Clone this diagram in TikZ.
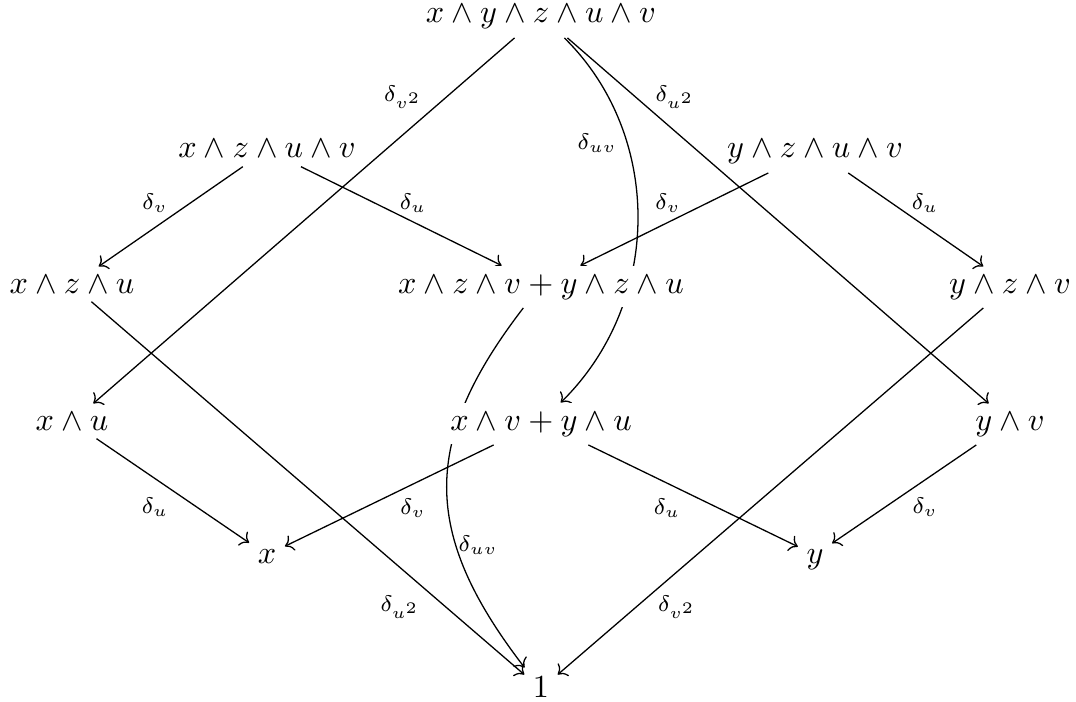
\documentclass[tikz,border=0pt]{standalone}
\usetikzlibrary{cd,arrows.meta,backgrounds}
\begin{document}
\begin{tikzpicture}[x=0.3106pt, y=-0.3106pt,
  cell/.style={shape=asymmetrical rectangle, anchor=base, inner xsep=2.5pt, inner ysep=2.5pt},
  opaque/.style={fill=white},
  lab/.style={inner sep=0pt},
  arr/.style={-{Computer Modern Rightarrow}, line width=0.4pt}]
\useasboundingbox (0,0) rectangle (1076,702);
% nodes (placed at baselines)
\node[cell] (T) at (541,23) {$x\wedge y\wedge z\wedge u\wedge v$};
\node[cell] (A) at (267,158) {$x\wedge z\wedge u\wedge v$};
\node[cell] (B) at (815,158) {$y\wedge z\wedge u\wedge v$};
\node[cell] (C) at (72,293) {$x\wedge z\wedge u$};
\node[cell, opaque] (M) at (541,293) {$x\wedge z\wedge v+y\wedge z\wedge u$};
\node[cell] (D) at (1010,293) {$y\wedge z\wedge v$};
\node[cell] (E) at (72,430) {$x\wedge u$};
\node[cell, opaque] (F) at (541,430) {$x\wedge v+y\wedge u$};
\node[cell] (G) at (1010,430) {$y\wedge v$};
\node[cell] (X) at (267,563) {$x$};
\node[cell] (Y) at (815,563) {$y$};
\node[cell] (O) at (541,697) {$1$};
% connectors (behind the nodes)
\begin{scope}[on background layer]
\draw[arr] (T) -- (E);
\draw[arr] (T) -- (G);
\draw[arr] (T) .. controls +(122,120) and +(122,-120) .. (F);
\draw[arr] (A) -- (C);
\draw[arr] (A) -- (M);
\draw[arr] (B) -- (M);
\draw[arr] (B) -- (D);
\draw[arr] (C) -- (O);
\draw[arr] (D) -- (O);
\draw[arr] (M) .. controls +(-120,156) and +(-120,-156) .. (O);
\draw[arr] (E) -- (X);
\draw[arr] (F) -- (X);
\draw[arr] (F) -- (Y);
\draw[arr] (G) -- (Y);
\end{scope}
% labels
\node[lab] (l1) at (403,97) {$\scriptstyle\delta_{v^2}$};
\node[lab] (l2) at (675,97) {$\scriptstyle\delta_{u^2}$};
\node[lab] (l3) at (597,143) {$\scriptstyle\delta_{uv}$};
\node[lab] (l4) at (155,203) {$\scriptstyle\delta_{v}$};
\node[lab] (l5) at (413,203) {$\scriptstyle\delta_{u}$};
\node[lab] (l6) at (668,203) {$\scriptstyle\delta_{v}$};
\node[lab] (l7) at (925,203) {$\scriptstyle\delta_{u}$};
\node[lab] (l8) at (155,507) {$\scriptstyle\delta_{u}$};
\node[lab] (l9) at (413,508) {$\scriptstyle\delta_{v}$};
\node[lab] (l10) at (667,508) {$\scriptstyle\delta_{u}$};
\node[lab] (l11) at (925,507) {$\scriptstyle\delta_{v}$};
\node[lab] (l12) at (478,545) {$\scriptstyle\delta_{uv}$};
\node[lab] (l13) at (400,607) {$\scriptstyle\delta_{u^2}$};
\node[lab] (l14) at (677,607) {$\scriptstyle\delta_{v^2}$};
\end{tikzpicture}
\end{document}
